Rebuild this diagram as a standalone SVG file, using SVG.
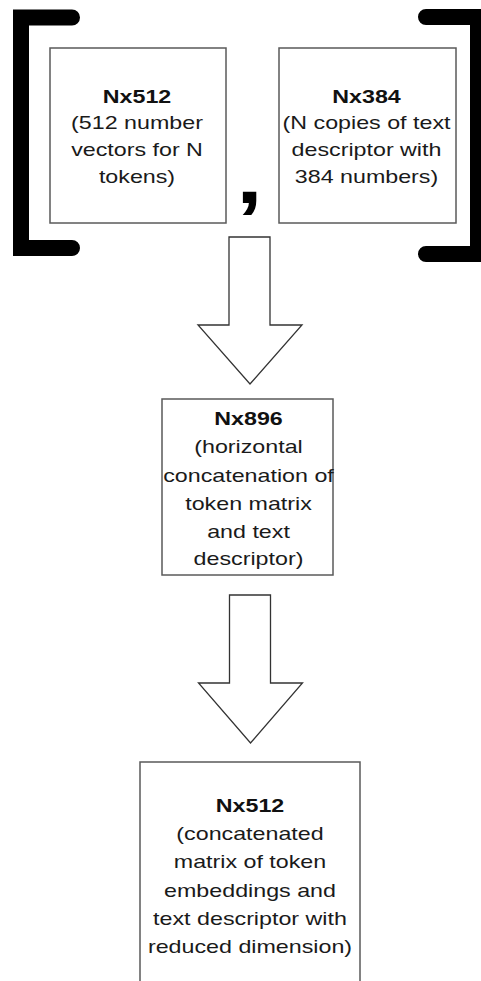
<svg xmlns="http://www.w3.org/2000/svg" width="481" height="981" viewBox="0 0 481 981">
<style>
.box{fill:#fff;stroke:#5a5a5a;stroke-width:1.5}
.arrow{fill:#fff;stroke:#333;stroke-width:1.3;stroke-linejoin:miter}
.br{fill:none;stroke:#000;stroke-width:16;stroke-linecap:round;stroke-linejoin:miter}
text{font-family:"Liberation Sans",Arial,sans-serif;font-size:18.6px;fill:#1a1a1a;text-anchor:middle}
.b{font-weight:bold;fill:#111}
.comma{font-family:"Liberation Sans",Arial,sans-serif;font-size:76px;font-weight:bold;fill:#000}
</style>
<rect width="481" height="981" fill="#fff"/>
<g id="brackets">
<path class="br" d="M72 17.5 L21 17.5 L21 248 L72 248"/>
<path class="br" d="M426 17 L478 17 L478 254 L426 254"/>
</g>
<g id="comma" transform="translate(249.5 0) scale(1.25 1)"><text class="comma" x="0" y="203">,</text></g>
<g id="connectors">
<path class="arrow" d="M229 237 L270 237 L270 325 L302 325 L250 384 L198 325 L229 325 Z"/>
<path class="arrow" d="M229.5 595 L270.5 595 L270.5 683 L302.5 683 L250.5 743 L198.5 683 L229.5 683 Z"/>
</g>
<g id="node1">
<rect class="box" x="50" y="48" width="176" height="175"/>
<g transform="translate(137 0) scale(1.25 1)">
<text class="b" x="0" y="102.7">Nx512</text>
<text x="0" y="129.3">(512 number</text>
<text x="0" y="156">vectors for N</text>
<text x="0" y="182.7">tokens)</text>
</g>
</g>
<g id="node2">
<rect class="box" x="279" y="48" width="177" height="175"/>
<g transform="translate(366.5 0) scale(1.25 1)">
<text class="b" x="0" y="102.7">Nx384</text>
<text x="0" y="129.3">(N copies of text</text>
<text x="0" y="156">descriptor with</text>
<text x="0" y="182.7">384 numbers)</text>
</g>
</g>
<g id="node3">
<rect class="box" x="162" y="399" width="171" height="176"/>
<g transform="translate(248.5 0) scale(1.25 1)">
<text class="b" x="0" y="425">Nx896</text>
<text x="0" y="453.5">(horizontal</text>
<text x="0" y="481.7">concatenation of</text>
<text x="0" y="510.2">token matrix</text>
<text x="0" y="538">and text</text>
<text x="0" y="565">descriptor)</text>
</g>
</g>
<g id="node4">
<rect class="box" x="140" y="762" width="220" height="240"/>
<g transform="translate(250 0) scale(1.25 1)">
<text class="b" x="0" y="811.7">Nx512</text>
<text x="0" y="840.3">(concatenated</text>
<text x="0" y="868.5">matrix of token</text>
<text x="0" y="896.8">embeddings and</text>
<text x="0" y="925">text descriptor with</text>
<text x="0" y="953.3">reduced dimension)</text>
</g>
</g>
</svg>
